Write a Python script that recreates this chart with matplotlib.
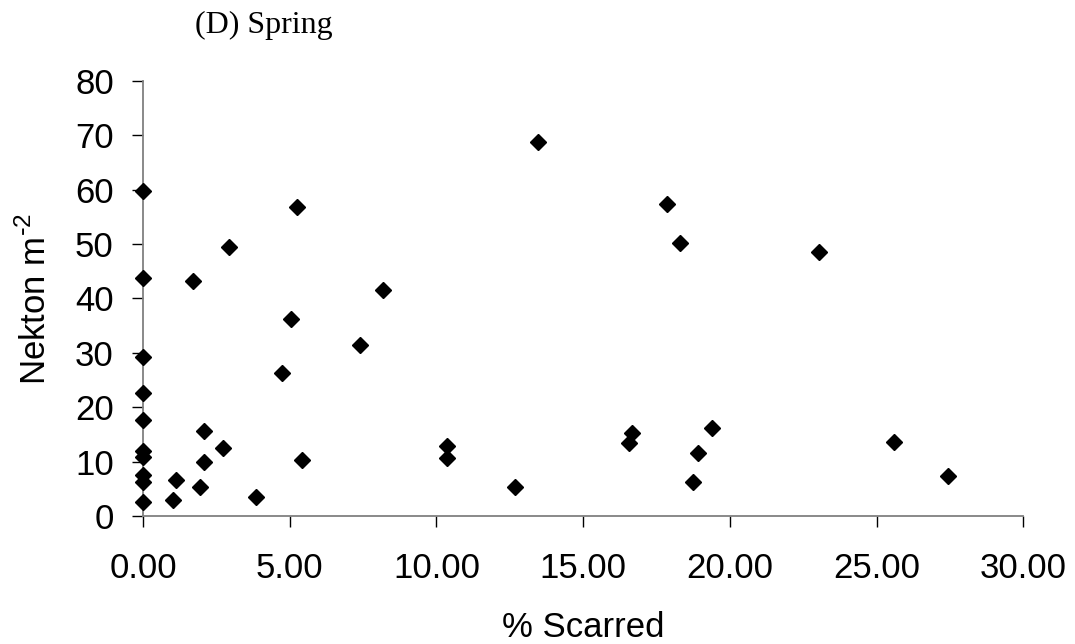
import matplotlib.pyplot as plt
from matplotlib.ticker import FormatStrFormatter

# % scarred vs nekton density, spring
scarred = [0, 0, 0, 0, 0, 0, 0, 0, 0, 0,
           1.72, 2.93, 5.24, 5.03, 4.73, 7.4, 8.19,
           2.08, 2.72, 2.08, 1.11, 1.93, 1.03, 3.84, 5.42,
           13.47, 17.85, 18.3, 23.05,
           10.35, 10.35, 12.66, 16.66, 16.57,
           19.38, 18.9, 18.73, 25.6, 27.43]
nekton = [59.7, 43.7, 29.3, 22.6, 17.7, 12.0, 10.8, 7.6, 6.2, 2.5,
          43.3, 49.4, 56.8, 36.3, 26.3, 31.4, 41.6,
          15.7, 12.4, 9.9, 6.6, 5.4, 3.0, 3.4, 10.3,
          68.8, 57.3, 50.3, 48.6,
          12.8, 10.6, 5.4, 15.3, 13.4,
          16.1, 11.6, 6.2, 13.6, 7.4]

x_ticks = [0, 5, 10, 15, 20, 25, 30]
y_ticks = [0, 10, 20, 30, 40, 50, 60, 70, 80]

plt.rcParams['font.family'] = ['Liberation Sans', 'DejaVu Sans']

fig = plt.figure(figsize=(10.75, 6.44), dpi=100)
ax = fig.add_axes([0.133, 0.199, 0.819, 0.675])

ax.plot(scarred, nekton, linestyle='none', marker='D', markersize=8.5,
        color='black', clip_on=False, zorder=3)

ax.set_xlim(0, 30)
ax.set_ylim(0, 80)
ax.set_xticks(x_ticks)
ax.set_yticks(y_ticks)
ax.xaxis.set_major_formatter(FormatStrFormatter('%.2f'))

for side in ['top', 'right']:
    ax.spines[side].set_visible(False)
for side in ['left', 'bottom']:
    ax.spines[side].set_color('#808080')
    ax.spines[side].set_linewidth(1.3)

ax.tick_params(axis='both', direction='out', length=8, width=1,
               color='black', labelsize=25)
ax.tick_params(axis='x', pad=18)
ax.tick_params(axis='y', pad=13)

ax.set_xlabel('% Scarred', fontsize=25, labelpad=19)
ax.set_ylabel('Nekton m$^{\\mathregular{\\text{-}2}}$', fontsize=25, labelpad=16)

fig.text(0.181, 0.960, '(D) Spring', family='Liberation Serif',
         fontsize=23, va='center', ha='left')

fig.savefig('out.png', dpi=100)
